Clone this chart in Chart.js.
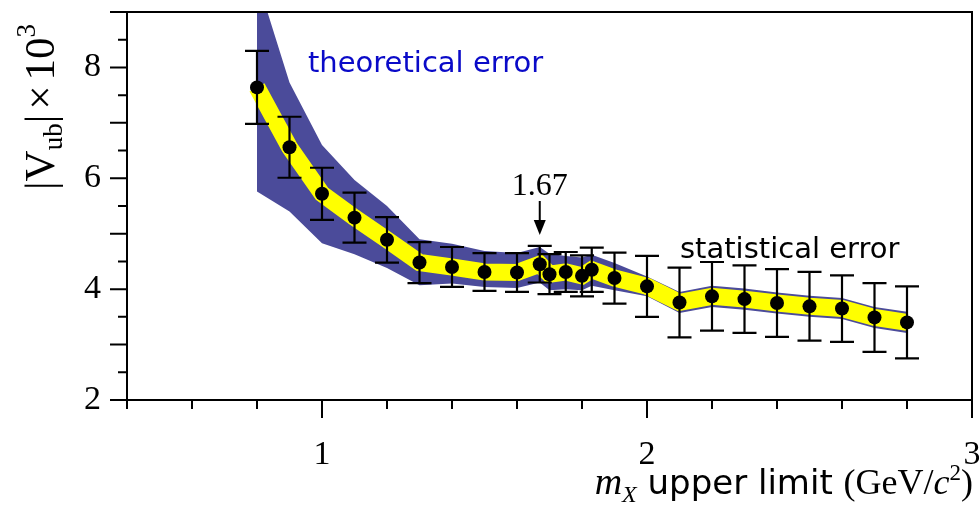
<!DOCTYPE html>
<html>
<head>
<meta charset="utf-8">
<script src="https://cdn.jsdelivr.net/npm/chart.js@4.4.0/dist/chart.umd.min.js"></script>
<style>
  html, body { margin: 0; padding: 0; background: #ffffff; }
  canvas { display: block; }
</style>
</head>
<body>
<canvas id="c" width="979" height="510"></canvas>
<script>
// ---- data ----
const mxCut   = [0.8, 0.9, 1.0, 1.1, 1.2, 1.3, 1.4, 1.5, 1.6, 1.67, 1.7, 1.75, 1.8, 1.83, 1.9, 2.0, 2.1, 2.2, 2.3, 2.4, 2.5, 2.6, 2.7, 2.8];
const vub     = [7.64, 6.56, 5.72, 5.29, 4.89, 4.48, 4.40, 4.31, 4.30, 4.45, 4.27, 4.31, 4.24, 4.35, 4.20, 4.05, 3.76, 3.87, 3.82, 3.75, 3.69, 3.65, 3.49, 3.40];
const statErr = [0.66, 0.55, 0.47, 0.45, 0.41, 0.37, 0.36, 0.34, 0.35, 0.33, 0.36, 0.36, 0.37, 0.40, 0.46, 0.55, 0.63, 0.62, 0.61, 0.61, 0.62, 0.60, 0.62, 0.65];
const theoUp  = [9.60, 7.73, 6.60, 5.97, 5.50, 4.90, 4.82, 4.69, 4.65, 4.76, 4.64, 4.60, 4.57, 4.62, 4.47, 4.23, 3.95, 4.06, 4.01, 3.94, 3.88, 3.84, 3.68, 3.59];
const theoLo  = [5.76, 5.40, 4.83, 4.63, 4.38, 4.07, 4.10, 4.04, 4.02, 4.12, 3.98, 4.00, 3.98, 4.06, 3.98, 3.87, 3.57, 3.68, 3.63, 3.56, 3.50, 3.46, 3.30, 3.21];
const xTickLabels = ['1', '2', '3'];
const yTickLabels = ['2', '4', '6', '8'];

const BLUE = '#4b4b9a';
const YELLOW = '#ffff00';
const pts = (ys) => mxCut.map((x, i) => ({ x: x, y: ys[i] }));
const near = (v, s) => s.find(l => Math.abs(parseFloat(l) - v) < 1e-6);

const drawPlugin = {
  id: 'drawExtras',
  beforeDraw(chart) {
    const ctx = chart.ctx;
    ctx.save();
    ctx.fillStyle = '#ffffff';
    ctx.fillRect(0, 0, chart.width, chart.height);
    ctx.restore();
  },
  afterDatasetsDraw(chart) {
    const ctx = chart.ctx, xs = chart.scales.x, ys = chart.scales.y;
    ctx.save();
    ctx.strokeStyle = '#000';
    ctx.lineWidth = 2.2;
    mxCut.forEach((x, i) => {
      const px = xs.getPixelForValue(x);
      const t = ys.getPixelForValue(vub[i] + statErr[i]);
      const b = ys.getPixelForValue(vub[i] - statErr[i]);
      ctx.beginPath();
      ctx.moveTo(px, t); ctx.lineTo(px, b);
      ctx.moveTo(px - 12, t); ctx.lineTo(px + 12, t);
      ctx.moveTo(px - 12, b); ctx.lineTo(px + 12, b);
      ctx.stroke();
    });
    ctx.restore();
  },
  afterDraw(chart) {
    const ctx = chart.ctx, xs = chart.scales.x, ys = chart.scales.y;
    const a = chart.chartArea;
    ctx.save();
    // frame
    ctx.strokeStyle = '#000';
    ctx.lineWidth = 2;
    ctx.strokeRect(a.left, a.top, a.right - a.left, a.bottom - a.top);
    // tick marks (outside)
    ctx.beginPath();
    xs.ticks.forEach(t => {
      const px = xs.getPixelForValue(t.value);
      const major = Math.abs(t.value - Math.round(t.value)) < 1e-6;
      ctx.moveTo(px, a.bottom); ctx.lineTo(px, a.bottom + (major ? 18 : 9));
    });
    ys.ticks.forEach(t => {
      const py = ys.getPixelForValue(t.value);
      const major = Math.abs(t.value - Math.round(t.value)) < 1e-6;
      ctx.moveTo(a.left, py); ctx.lineTo(a.left - (major ? 17 : 9), py);
    });
    ctx.stroke();

    // y axis title  |V_ub| x 10^3
    ctx.save();
    ctx.translate(54, 190);
    ctx.rotate(-Math.PI / 2);
    ctx.fillStyle = '#000';
    ctx.textBaseline = 'alphabetic';
    const yParts = [
      { t: '|V', f: '43px "Liberation Serif"', dy: 0 },
      { t: 'ub', f: '27px "Liberation Serif"', dy: 8 },
      { t: '|', f: '43px "Liberation Serif"', dy: 0 },
      { t: '\u00D7', f: '43px "Liberation Serif"', dy: 0, pad: 5 },
      { t: '10', f: '43px "Liberation Serif"', dy: 0, pad: 5 },
      { t: '3', f: '27px "Liberation Serif"', dy: -19 }
    ];
    let cx = 0;
    yParts.forEach(p => {
      ctx.font = p.f;
      cx += (p.pad || 0);
      ctx.fillText(p.t, cx, p.dy);
      cx += ctx.measureText(p.t).width;
    });
    ctx.restore();

    // x axis title  m_X upper limit (GeV/c^2)
    const xParts = [
      { t: 'm', f: 'italic 38px "Liberation Serif"', dy: 0 },
      { t: 'X', f: 'italic 24px "Liberation Serif"', dy: 8 },
      { t: ' upper limit ', f: '34px "DejaVu Sans"', dy: 0 },
      { t: '(GeV/', f: '36px "Liberation Serif"', dy: 0 },
      { t: 'c', f: 'italic 36px "Liberation Serif"', dy: 0 },
      { t: '2', f: '23px "Liberation Serif"', dy: -14 },
      { t: ')', f: '36px "Liberation Serif"', dy: 0 }
    ];
    let total = 0;
    xParts.forEach(p => { ctx.font = p.f; total += ctx.measureText(p.t).width; });
    let xx = 973 - total;
    ctx.fillStyle = '#000';
    xParts.forEach(p => {
      ctx.font = p.f;
      ctx.fillText(p.t, xx, 494 + p.dy);
      xx += ctx.measureText(p.t).width;
    });

    // annotations
    ctx.font = '29px "DejaVu Sans"';
    ctx.fillStyle = '#0a0ac8';
    ctx.fillText('theoretical error', 308, 72);
    ctx.fillStyle = '#000';
    ctx.fillText('statistical error', 680, 258);

    const ax = xs.getPixelForValue(1.67);
    ctx.font = '32px "Liberation Serif"';
    ctx.textAlign = 'center';
    ctx.fillText('1.67', ax, 195);
    ctx.textAlign = 'left';
    ctx.beginPath();
    ctx.moveTo(ax, 201); ctx.lineTo(ax, 225);
    ctx.stroke();
    ctx.beginPath();
    ctx.moveTo(ax - 6, 220); ctx.lineTo(ax + 6, 220); ctx.lineTo(ax, 235); ctx.closePath();
    ctx.fill();
    ctx.restore();
  }
};

new Chart(document.getElementById('c'), {
  type: 'scatter',
  data: {
    datasets: [
      { data: pts(theoUp), showLine: true, fill: '+1', backgroundColor: BLUE, borderWidth: 0, pointRadius: 0, order: 4 },
      { data: pts(theoLo), showLine: true, fill: false, borderWidth: 0, pointRadius: 0, order: 3 },
      { data: pts(vub), showLine: true, fill: false, borderColor: YELLOW, borderWidth: 17, borderJoinStyle: 'miter', borderCapStyle: 'butt', pointRadius: 0, order: 2 },
      { data: pts(vub), showLine: false, pointRadius: 7, pointBackgroundColor: '#000', pointBorderColor: '#000', pointBorderWidth: 0, order: 1 }
    ]
  },
  options: {
    responsive: false,
    devicePixelRatio: 1,
    animation: false,
    layout: { padding: { top: 12, right: 7, left: 0, bottom: 0 } },
    plugins: { legend: { display: false }, tooltip: { enabled: false } },
    scales: {
      x: {
        type: 'linear', min: 0.4, max: 3.0,
        grid: { display: false, drawTicks: false },
        border: { display: false },
        ticks: {
          stepSize: 0.2, autoSkip: false, maxRotation: 0, padding: 35,
          color: '#000', font: { family: 'Liberation Serif', size: 34 },
          callback: (v) => near(v, xTickLabels) || ''
        },
        afterFit: (s) => { s.height = 110; s.paddingLeft = 0; s.paddingRight = 0; }
      },
      y: {
        type: 'linear', min: 2, max: 9,
        grid: { display: false, drawTicks: false },
        border: { display: false },
        ticks: {
          stepSize: 0.5, autoSkip: false, padding: 26,
          color: '#000', font: { family: 'Liberation Serif', size: 34 },
          callback: (v) => near(v, yTickLabels) || ''
        },
        afterFit: (s) => { s.width = 127; s.paddingTop = 0; s.paddingBottom = 0; }
      }
    }
  },
  plugins: [drawPlugin]
});
</script>
</body>
</html>
